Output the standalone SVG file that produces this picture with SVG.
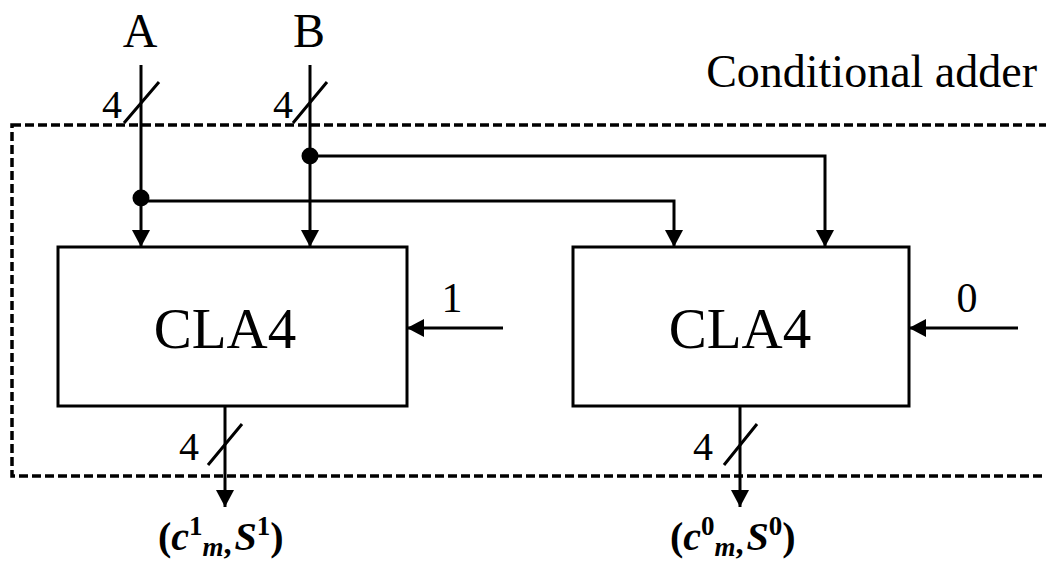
<svg xmlns="http://www.w3.org/2000/svg" width="1046" height="564" viewBox="0 0 1046 564">
<defs>
<style>
.ln{stroke:#000;stroke-width:3;fill:none}
.box{stroke:#000;stroke-width:3;fill:#fff}
.dash{stroke:#000;stroke-width:3.5;fill:none;stroke-dasharray:9 4}
.t{font-family:"Liberation Serif","Times New Roman",serif;fill:#000}
.lbl{font-family:"Liberation Serif","Times New Roman",serif;font-weight:bold;font-size:40px;fill:#000}
</style>
<marker id="arr" markerUnits="userSpaceOnUse" markerWidth="20" markerHeight="20" viewBox="0 0 20 20" refX="18" refY="10" orient="auto">
<path d="M1,1 L18,10 L1,19 Z" fill="#000"/>
</marker>
</defs>
<rect class="dash" x="12" y="125" width="1100" height="351"/>
<text class="t" x="1037" y="87" font-size="46" text-anchor="end">Conditional adder</text>
<g id="inA">
<text class="t" x="140" y="47" font-size="48" text-anchor="middle">A</text>
<text class="t" x="112" y="118" font-size="40" text-anchor="middle">4</text>
</g>
<g id="inB">
<text class="t" x="309" y="47" font-size="48" text-anchor="middle">B</text>
<text class="t" x="283" y="118" font-size="40" text-anchor="middle">4</text>
</g>
<g id="cla1">
<rect class="box" x="58" y="247" width="349" height="159"/>
<text class="t" x="225" y="348" font-size="57" text-anchor="middle">CLA4</text>
</g>
<g id="cla2">
<rect class="box" x="573" y="247" width="336" height="159"/>
<text class="t" x="740" y="348" font-size="57" text-anchor="middle">CLA4</text>
</g>
<g id="cin1"><text class="t" x="452" y="312" font-size="42" text-anchor="middle">1</text></g>
<g id="cin0"><text class="t" x="967" y="312" font-size="42" text-anchor="middle">0</text></g>
<g id="out1">
<text class="t" x="189" y="460" font-size="40" text-anchor="middle">4</text>
<text class="lbl" x="158" y="550">(<tspan font-style="italic">c</tspan><tspan font-size="27" dy="-15">1</tspan><tspan font-style="italic" font-size="27" dy="21">m</tspan><tspan font-size="32" dy="-2">,</tspan><tspan font-style="italic" dx="3" dy="-4">S</tspan><tspan font-size="27" dy="-15">1</tspan><tspan dy="15">)</tspan></text>
</g>
<g id="out0">
<text class="t" x="703" y="460" font-size="40" text-anchor="middle">4</text>
<text class="lbl" x="670" y="550">(<tspan font-style="italic">c</tspan><tspan font-size="27" dy="-15">0</tspan><tspan font-style="italic" font-size="27" dy="21">m</tspan><tspan font-size="32" dy="-2">,</tspan><tspan font-style="italic" dx="3" dy="-4">S</tspan><tspan font-size="27" dy="-15">0</tspan><tspan dy="15">)</tspan></text>
</g>
<g id="connectors">
<path class="ln" d="M141,65 V247" marker-end="url(#arr)"/>
<path class="ln" d="M310,65 V247" marker-end="url(#arr)"/>
<path class="ln" d="M141,201 H674 V247" marker-end="url(#arr)"/>
<path class="ln" d="M310,156 H825 V247" marker-end="url(#arr)"/>
<path class="ln" d="M503,328 H407" marker-end="url(#arr)"/>
<path class="ln" d="M1018,328 H909" marker-end="url(#arr)"/>
<path class="ln" d="M225,406 V507" marker-end="url(#arr)"/>
<path class="ln" d="M740,406 V507" marker-end="url(#arr)"/>
<circle cx="141" cy="198" r="8.5" fill="#000"/>
<circle cx="310" cy="156" r="8.5" fill="#000"/>
<path class="ln" d="M124,123 L159,82 M293,123 L327,82 M208,465 L242,424 M724,465 L757,424"/>
</g>
</svg>
